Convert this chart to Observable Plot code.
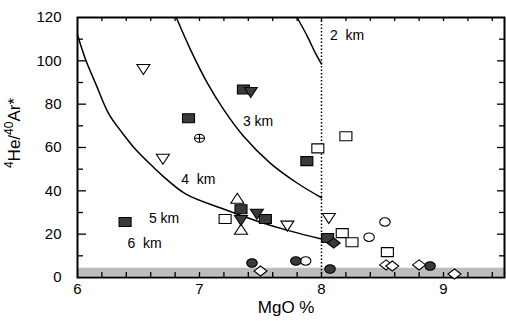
<!DOCTYPE html>
<html><head><meta charset="utf-8">
<script src="https://cdn.jsdelivr.net/npm/d3@7"></script>
<script src="https://cdn.jsdelivr.net/npm/@observablehq/plot@0.6"></script>
<style>body{margin:0;background:#fff}svg{display:block}</style>
</head><body><div id="chart"></div>
<script>
// ---- data ----
const xTicks = [6, 7, 8, 9];
const yTicks = [0, 20, 40, 60, 80, 100, 120];
const xMinorTicks = [6.2,6.4,6.6,6.8,7,7.2,7.4,7.6,7.8,8,8.2,8.4,8.6,8.8,9,9.2,9.4];
const yMinorTicks = [10,30,50,70,90,110];
const yMajorTicks = [20,40,60,80,100];
const bandRange = [{y1: 0.5, y2: 4.3}];
const boundaryX = [8];

const curveA = [[6.00,112],[6.066,100.6],[6.148,89.6],[6.254,75.8],[6.369,66.6],[6.475,59.2],[6.639,50.0],[6.70,46.8],[6.885,38.6],[7.197,31.6],[7.475,26.0],[7.746,21.4],[8.00,17.8]];
const curveB = [[6.81,120],[6.926,105.2],[7.066,89.6],[7.197,77.6],[7.361,65.2],[7.582,52.7],[7.803,43.5],[8.00,36.8]];
const curveC = [[7.80,120],[7.885,111.2],[7.951,103.4],[8.00,98.5]];

const openSquare   = [[7.97,59.6],[8.20,65.2],[7.21,27.0],[8.17,20.5],[8.25,16.3],[8.54,11.7]];
const openDownTri  = [[6.54,96.0],[6.70,54.6],[7.72,23.7],[8.06,27.2]];
const openUpTri    = [[7.31,36.6],[7.34,22.3]];
const filledSquare = [[6.91,73.5],[7.36,86.8],[7.88,53.7],[6.39,25.6],[7.34,31.5],[7.54,27.0],[8.05,18.2]];
const filledDownTri= [[7.42,85.4],[7.47,29.2],[7.34,26.3]];
const openCircle   = [[8.39,18.6],[8.52,25.6],[7.87,7.6]];
const filledCircle = [[7.43,6.7],[7.79,7.6],[8.07,3.9],[8.89,5.3]];
const openDiamond  = [[7.50,3.0],[8.53,5.8],[8.58,5.3],[8.80,5.8],[9.09,1.6]];
const filledDiamond= [[8.10,15.9]];
const crossCircle  = [[7.00,64.3]];

const sideLabels = [{x: 8.07, y: 111.5, text: "2  km"}];
const depthLabels = [
  {x: 7.48, y: 72.0, text: "3 km"},
  {x: 6.99, y: 45.4, text: "4  km"},
  {x: 6.71, y: 27.4, text: "5 km"},
  {x: 6.55, y: 15.9, text: "6  km"}
];

// ---- symbols ----
function sym(fn){ return {draw(c, size){ const r = Math.sqrt(size/Math.PI); fn(c, r); }}; }
const rectSym = sym((c,r)=>{const w=1.2*r,h=0.9*r; c.moveTo(-w,-h);c.lineTo(w,-h);c.lineTo(w,h);c.lineTo(-w,h);c.closePath();});
const downTri = sym((c,r)=>{const w=1.3*r; c.moveTo(-w,-r);c.lineTo(w,-r);c.lineTo(0,r);c.closePath();});
const upTri = sym((c,r)=>{const w=1.3*r; c.moveTo(-w,r);c.lineTo(w,r);c.lineTo(0,-r);c.closePath();});
const diamondSym = sym((c,r)=>{const w=1.3*r,h=r; c.moveTo(0,-h);c.lineTo(w,0);c.lineTo(0,h);c.lineTo(-w,0);c.closePath();});
function ell(c,a,b){const k=0.5523; c.moveTo(a,0); c.bezierCurveTo(a,k*b,k*a,b,0,b); c.bezierCurveTo(-k*a,b,-a,k*b,-a,0); c.bezierCurveTo(-a,-k*b,-k*a,-b,0,-b); c.bezierCurveTo(k*a,-b,a,-k*b,a,0); c.closePath();}
const ellSym = sym((c,r)=>ell(c,1.05*r,0.85*r));
const crossSym = sym((c,r)=>{ell(c,r,0.8*r); c.moveTo(-r,0);c.lineTo(r,0);c.moveTo(0,-0.8*r);c.lineTo(0,0.8*r);});

const dark = "#3a3a3a";
const W = 506, H = 321, mL = 77, mR = 2, mT = 17, mB = 44;
const pw = W - mL - mR, ph = H - mT - mB;

function pts(data, symbol, filled){
  return Plot.dot(data, {x: d=>d[0], y: d=>d[1], symbol, r: 5,
    fill: filled ? dark : "white", stroke: "black", strokeWidth: 1.1});
}

const chart = Plot.plot({
  width: W, height: H,
  marginLeft: mL, marginRight: mR, marginTop: mT, marginBottom: mB,
  x: {domain: [6, 9.5]},
  y: {domain: [0, 120]},
  style: {fontFamily: "'Liberation Sans', Arial, Helvetica, sans-serif", background: "white", color: "black"},
  marks: [
    Plot.rect(bandRange, {y1: "y1", y2: "y2", fill: "#bdbdbd"}),
    Plot.ruleX(boundaryX, {x: d=>d, stroke: "black", strokeWidth: 1.5, strokeDasharray: "1.5,2"}),
    Plot.line(curveA, {x: d=>d[0], y: d=>d[1], curve: "catmull-rom", stroke: "black", strokeWidth: 1.5}),
    Plot.line(curveB, {x: d=>d[0], y: d=>d[1], curve: "catmull-rom", stroke: "black", strokeWidth: 1.5}),
    Plot.line(curveC, {x: d=>d[0], y: d=>d[1], curve: "catmull-rom", stroke: "black", strokeWidth: 1.5}),
    // ticks (inward)
    Plot.tickY(yMajorTicks, {y: d=>d, insetRight: pw - 9, stroke: "black", strokeWidth: 1.3}),
    Plot.tickY(yMinorTicks, {y: d=>d, insetRight: pw - 6, stroke: "black", strokeWidth: 1.3}),
    Plot.tickY(yMajorTicks, {y: d=>d, insetLeft: pw - 7, stroke: "black", strokeWidth: 1.3}),
    Plot.tickY(yMinorTicks, {y: d=>d, insetLeft: pw - 5, stroke: "black", strokeWidth: 1.3}),
    Plot.tickX(xMinorTicks, {x: d=>d, insetTop: ph - 5, stroke: "black", strokeWidth: 1.3}),
    Plot.tickX(xMinorTicks, {x: d=>d, insetBottom: ph - 4, stroke: "black", strokeWidth: 1.3}),
    Plot.axisY(yTicks, {anchor: "left", tickSize: 0, tickPadding: 16, fontSize: 15, label: null, tickFormat: d=>String(d)}),
    Plot.axisX(xTicks, {anchor: "bottom", tickSize: 0, tickPadding: 6, fontSize: 15, label: null, tickFormat: d=>String(d)}),
    Plot.frame({stroke: "black", strokeWidth: 2}),
    // markers
    pts(openSquare, rectSym, false),
    pts(openDownTri, downTri, false),
    pts(openUpTri, upTri, false),
    pts(filledSquare, rectSym, true),
    pts(filledDownTri, downTri, true),
    pts(openCircle, ellSym, false),
    pts(filledCircle, ellSym, true),
    pts(openDiamond, diamondSym, false),
    pts(filledDiamond, diamondSym, true),
    Plot.dot(crossCircle, {x: d=>d[0], y: d=>d[1], symbol: crossSym, r: 5, fill: "white", stroke: "black", strokeWidth: 1.1}),
    Plot.text(depthLabels, {x: "x", y: "y", text: "text", textAnchor: "middle", fontSize: 14, fill: "black"}),
    Plot.text(sideLabels, {x: "x", y: "y", text: "text", textAnchor: "start", fontSize: 14, fill: "black"}),
    Plot.text(["MgO %"], {frameAnchor: "bottom", x: [7.71], dy: 35, text: d=>d, fontSize: 17, fill: "black"})
  ]
});
document.getElementById("chart").appendChild(chart);

// y-axis title with real superscripts
const svg = d3.select(chart);
const t = svg.append("text")
  .attr("transform", "translate(20,133) rotate(-90)")
  .attr("text-anchor", "middle")
  .attr("font-family", "'Liberation Sans', Arial, Helvetica, sans-serif")
  .attr("font-size", 17)
  .attr("fill", "black");
t.append("tspan").attr("font-size", 12).attr("dy", -7).text("4");
t.append("tspan").attr("dy", 7).text("He/");
t.append("tspan").attr("font-size", 12).attr("dy", -7).text("40");
t.append("tspan").attr("dy", 7).text("Ar*");
</script>
</body></html>
